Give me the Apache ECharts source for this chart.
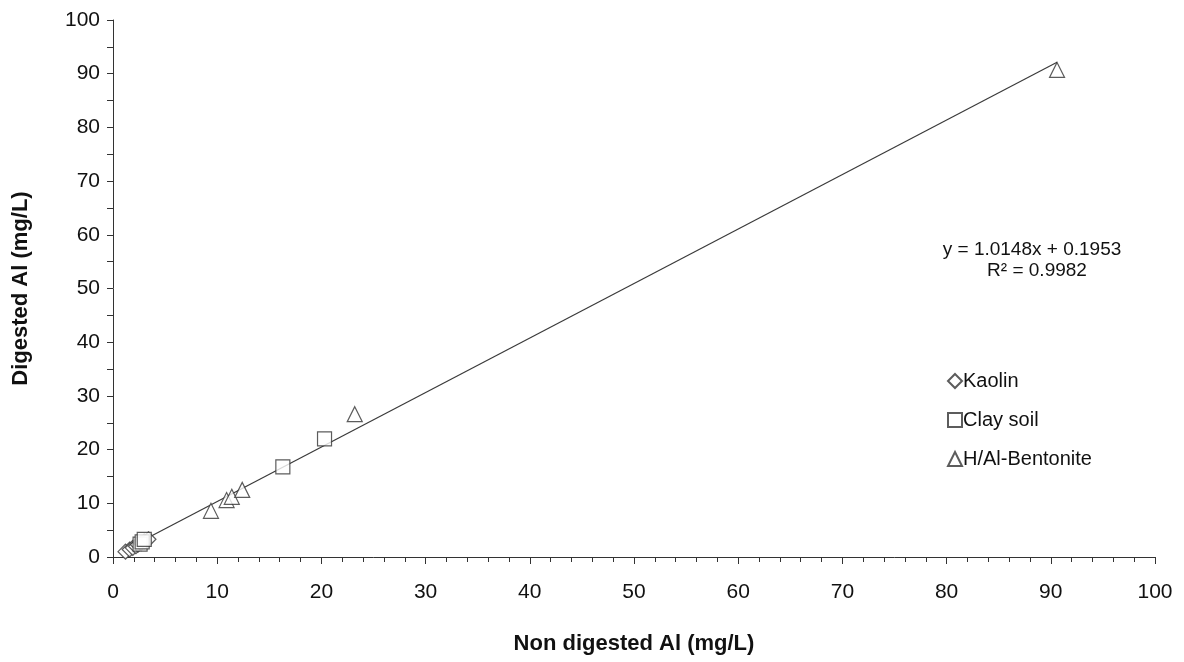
<!DOCTYPE html>
<html>
<head>
<meta charset="utf-8">
<script src="https://cdn.jsdelivr.net/npm/echarts@6/dist/echarts.min.js"></script>
<style>
  html, body { margin: 0; padding: 0; background: #fff; }
  #chart { width: 1184px; height: 662px; }
</style>
</head>
<body>
<div id="chart"></div>
<script>
// Non digested vs digested Al (mg/L), per sample type
const kaolin = [
  [1.2, 1.0], [1.6, 1.4], [1.9, 1.7], [2.2, 2.0],
  [2.4, 2.3], [2.7, 2.6], [3.0, 2.9], [3.4, 3.3]
];
const claySoil = [
  [2.6, 2.4], [2.8, 2.8], [3.0, 3.3],
  [16.3, 16.8], [20.3, 22.0]
];
const bentonite = [
  [9.4, 8.6], [10.9, 10.6], [11.4, 11.2], [12.4, 12.5],
  [23.2, 26.6], [90.6, 90.7]
];

// Linear fit stated on the chart
const slope = 1.0148;
const intercept = 0.1953;
const rSquared = 0.9982;
const fitRange = [1.2, 90.6];
const fitLine = fitRange.map(x => [x, slope * x + intercept]);

const seriesNames = ['Kaolin', 'Clay soil', 'H/Al-Bentonite'];
const axisTicks = [0, 10, 20, 30, 40, 50, 60, 70, 80, 90, 100];

const font = 'Liberation Sans, Arial, sans-serif';
const ink = '#111';
const marker = {
  color: '#fff',
  borderColor: '#333',
  borderWidth: 1.2
};

const chart = echarts.init(document.getElementById('chart'), null, { renderer: 'canvas' });

chart.setOption({
  animation: false,
  backgroundColor: '#fff',
  grid: {
    left: 113, right: 29, top: 20, bottom: 105,
    containLabel: false,
    outerBoundsMode: 'none'
  },
  xAxis: {
    type: 'value',
    min: axisTicks[0],
    max: axisTicks[axisTicks.length - 1],
    interval: 10,
    name: 'Non digested Al (mg/L)',
    nameLocation: 'middle',
    nameGap: 76,
    nameTextStyle: { fontFamily: font, fontSize: 22, fontWeight: 'bold', color: ink },
    axisLine: { show: true, lineStyle: { color: '#333', width: 1 } },
    axisTick: { show: true, inside: false, length: 7, lineStyle: { color: '#333' } },
    minorTick: { show: true, splitNumber: 5, length: 5, lineStyle: { color: '#333' } },
    axisLabel: { fontFamily: font, fontSize: 21, color: ink, margin: 25 },
    splitLine: { show: false }
  },
  yAxis: {
    type: 'value',
    min: axisTicks[0],
    max: axisTicks[axisTicks.length - 1],
    interval: 10,
    name: 'Digested Al (mg/L)',
    nameLocation: 'middle',
    nameGap: 81,
    nameTextStyle: { fontFamily: font, fontSize: 22, fontWeight: 'bold', color: ink },
    axisLine: { show: true, lineStyle: { color: '#333', width: 1 } },
    axisTick: { show: true, inside: false, length: 6, lineStyle: { color: '#333' } },
    minorTick: { show: true, splitNumber: 2, length: 6, lineStyle: { color: '#333' } },
    axisLabel: { fontFamily: font, fontSize: 21, color: ink, margin: 13 },
    splitLine: { show: false }
  },
  legend: {
    orient: 'vertical',
    left: 942,
    top: 366,
    itemWidth: 14,
    itemHeight: 14,
    itemGap: 19,
    data: [
      { name: seriesNames[0], icon: 'diamond' },
      { name: seriesNames[1], icon: 'rect' },
      { name: seriesNames[2], icon: 'triangle' }
    ],
    textStyle: { fontFamily: font, fontSize: 20, color: ink, padding: [0, 0, 0, -4] },
    selectedMode: false
  },
  graphic: [
    {
      type: 'text',
      x: 1032,
      y: 250,
      style: {
        text: 'y = ' + slope.toFixed(4) + 'x + ' + intercept.toFixed(4),
        font: '19px ' + font,
        fill: ink,
        align: 'center',
        verticalAlign: 'middle'
      }
    },
    {
      type: 'text',
      x: 1037,
      y: 271,
      style: {
        text: 'R² = ' + rSquared.toFixed(4),
        font: '19px ' + font,
        fill: ink,
        align: 'center',
        verticalAlign: 'middle'
      }
    }
  ],
  series: [
    {
      name: 'fit',
      type: 'line',
      data: fitLine,
      symbol: 'none',
      lineStyle: { color: '#3a3a3a', width: 1.2 },
      silent: true,
      z: 1
    },
    {
      name: seriesNames[0],
      type: 'scatter',
      symbol: 'diamond',
      symbolSize: 15,
      data: kaolin,
      itemStyle: marker,
      z: 3
    },
    {
      name: seriesNames[1],
      type: 'scatter',
      symbol: 'rect',
      symbolSize: 14,
      data: claySoil,
      itemStyle: marker,
      z: 3
    },
    {
      name: seriesNames[2],
      type: 'scatter',
      symbol: 'triangle',
      symbolSize: 15,
      data: bentonite,
      itemStyle: marker,
      z: 3
    }
  ]
});
</script>
</body>
</html>
